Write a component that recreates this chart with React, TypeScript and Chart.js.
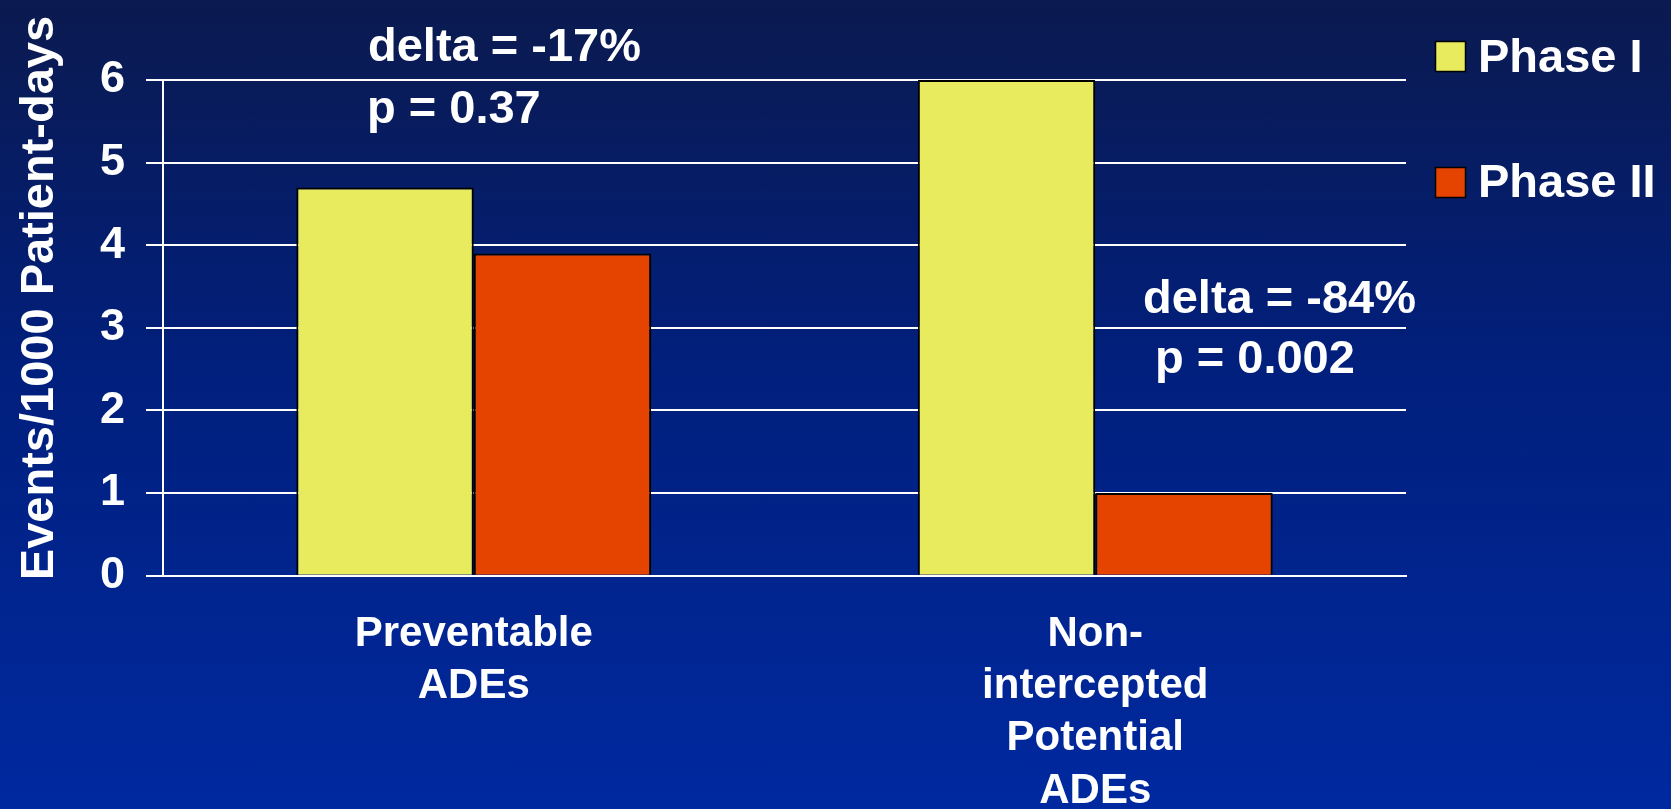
import React, { useEffect, useRef } from "react";
import { Chart, registerables } from "chart.js";

Chart.register(...registerables);

// Chart data
const categories = [
  ["Preventable", "ADEs"],
  ["Non-", "intercepted", "Potential", "ADEs"],
];
const seriesNames = ["Phase I", "Phase II"];
const phaseOne = [4.7, 6.0];
const phaseTwo = [3.9, 1.0];
const yTicks = [0, 1, 2, 3, 4, 5, 6];
const yTitle = "Events/1000 Patient-days";
const noteLeft = ["delta = -17%", "p = 0.37"];
const noteRight = ["delta = -84%", "p = 0.002"];

const FONT = "'Liberation Sans', Arial, Helvetica, sans-serif";
const YELLOW = "#E9EB5F";
const RED = "#E54300";

// Draws the rotated axis title, the statistics notes and the legend
const slideText = {
  id: "slideText",
  afterDraw(chart: any) {
    const { ctx } = chart;

    ctx.save();
    ctx.fillStyle = "#ffffff";
    ctx.font = `bold 47px ${FONT}`;
    ctx.textAlign = "center";
    ctx.textBaseline = "alphabetic";
    ctx.translate(53, 298);
    ctx.rotate(-Math.PI / 2);
    ctx.fillText(yTitle, 0, 0);
    ctx.restore();

    ctx.save();
    ctx.fillStyle = "#ffffff";
    ctx.font = `bold 47px ${FONT}`;
    ctx.textAlign = "left";
    ctx.textBaseline = "alphabetic";
    ctx.fillText(noteLeft[0], 368, 61);
    ctx.fillText(noteLeft[1], 367, 123);
    ctx.fillText(noteRight[0], 1143, 313);
    ctx.fillText(noteRight[1], 1155, 373);
    ctx.restore();

    ctx.save();
    chart.data.datasets.forEach((ds: any, i: number) => {
      const top = 41 + i * 126;
      ctx.fillStyle = ds.backgroundColor;
      ctx.fillRect(1435, top, 31, 31);
      ctx.strokeStyle = "#000000";
      ctx.lineWidth = 1.5;
      ctx.strokeRect(1435.5, top + 0.5, 30, 30);
      ctx.fillStyle = "#ffffff";
      ctx.font = `bold 47px ${FONT}`;
      ctx.textAlign = "left";
      ctx.textBaseline = "alphabetic";
      ctx.fillText(ds.label, 1478, 72 + i * 125);
    });
    ctx.restore();
  },
};

export default function App() {
  const canvasRef = useRef<HTMLCanvasElement | null>(null);

  useEffect(() => {
    if (!canvasRef.current) return;
    const chart = new Chart(canvasRef.current, {
      type: "bar",
      data: {
        labels: categories,
        datasets: [
          {
            label: seriesNames[0],
            data: phaseOne,
            backgroundColor: YELLOW,
            borderColor: "#000000",
            borderWidth: 2,
            borderSkipped: "start",
          },
          {
            label: seriesNames[1],
            data: phaseTwo,
            backgroundColor: RED,
            borderColor: "#000000",
            borderWidth: 2,
            borderSkipped: "start",
          },
        ],
      },
      options: {
        animation: false,
        responsive: true,
        maintainAspectRatio: false,
        layout: { padding: { top: 80, right: 265, left: 0, bottom: 0 } },
        datasets: { bar: { barPercentage: 1, categoryPercentage: 0.571 } },
        plugins: {
          legend: { display: false },
          tooltip: { enabled: false },
        },
        scales: {
          x: {
            z: 1,
            grid: { display: false, drawTicks: false },
            border: { display: true, color: "#ffffff", width: 2 },
            ticks: {
              color: "#ffffff",
              font: { family: FONT, size: 42, weight: "bold", lineHeight: 1.24 },
              padding: 33,
              maxRotation: 0,
              autoSkip: false,
            },
            afterFit: (s: any) => {
              s.height = 233.3;
            },
          },
          y: {
            min: 0,
            max: 6,
            afterBuildTicks: (s: any) => {
              s.ticks = yTicks.map((v) => ({ value: v }));
            },
            ticks: {
              color: "#ffffff",
              font: { family: FONT, size: 45, weight: "bold" },
              padding: 21,
            },
            grid: {
              color: "#ffffff",
              lineWidth: 2,
              tickLength: 17,
              tickColor: "#ffffff",
            },
            border: { color: "#ffffff", width: 2 },
            afterFit: (s: any) => {
              s.width = 163;
            },
          },
        },
      },
      plugins: [slideText],
    });
    return () => chart.destroy();
  }, []);

  return (
    <div
      style={{
        position: "fixed",
        left: 0,
        top: 0,
        width: 1671,
        height: 809,
        background: "linear-gradient(to bottom, #0b1a4f 0%, #011f7c 45%, #0029a0 100%)",
      }}
    >
      <canvas ref={canvasRef} />
    </div>
  );
}
